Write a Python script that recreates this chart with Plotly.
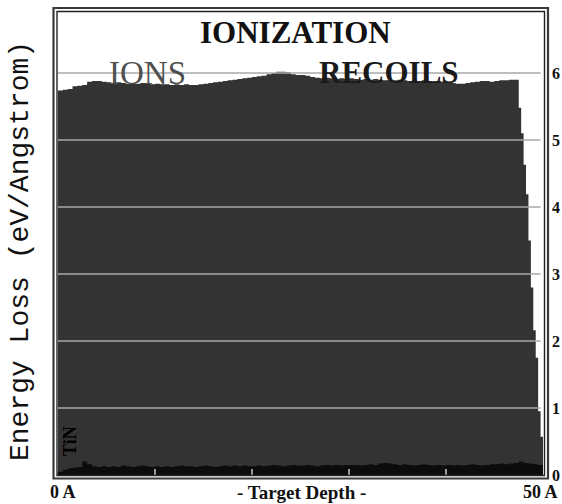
import plotly.graph_objects as go

# ---- data ----
BODY_BIN = 0.5   # Angstrom, bins 0 .. 47.5
TAIL_BIN = 0.25  # Angstrom, bins 47.5 .. 50
ion_body = [
    5.74, 5.75, 5.76, 5.80, 5.81, 5.82, 5.87, 5.88, 5.88, 5.87,
    5.86, 5.85, 5.86, 5.85, 5.84, 5.85, 5.84, 5.85, 5.84, 5.83,
    5.84, 5.83, 5.83, 5.82, 5.83, 5.82, 5.83, 5.82, 5.82, 5.83,
    5.84, 5.85, 5.86, 5.87, 5.88, 5.89, 5.90, 5.91, 5.92, 5.93,
    5.94, 5.95, 5.96, 5.98, 6.00, 6.02, 6.02, 6.01, 5.98, 5.97,
    5.97, 5.96, 5.94, 5.93, 5.92, 5.93, 5.92, 5.91, 5.92, 5.91,
    5.92, 5.91, 5.90, 5.91, 5.90, 5.91, 5.90, 5.89, 5.90, 5.89,
    5.90, 5.89, 5.88, 5.89, 5.88, 5.89, 5.88, 5.87, 5.88, 5.87,
    5.86, 5.85, 5.84, 5.84, 5.85, 5.86, 5.87, 5.88, 5.88, 5.87,
    5.88, 5.89, 5.89, 5.90, 5.90,
]
ion_tail = [5.48, 5.10, 4.63, 4.19, 3.50, 2.80, 2.16, 1.75, 0.95, 0.57]
recoil_vals = [
    0.05, 0.08, 0.10, 0.11, 0.12, 0.20, 0.16, 0.13, 0.12, 0.13,
    0.12, 0.13, 0.12, 0.14, 0.13, 0.12, 0.13, 0.14, 0.13, 0.12,
    0.13, 0.12, 0.13, 0.12, 0.13, 0.14, 0.13, 0.13, 0.12, 0.13,
    0.14, 0.13, 0.12, 0.13, 0.14, 0.13, 0.14, 0.13, 0.14, 0.13,
    0.13, 0.14, 0.13, 0.14, 0.15, 0.14, 0.13, 0.14, 0.15, 0.14,
    0.14, 0.15, 0.14, 0.13, 0.14, 0.15, 0.14, 0.15, 0.14, 0.15,
    0.15, 0.15, 0.14, 0.15, 0.16, 0.15, 0.17, 0.18, 0.17, 0.16,
    0.15, 0.16, 0.15, 0.14, 0.15, 0.16, 0.15, 0.14, 0.15, 0.14,
    0.15, 0.14, 0.15, 0.14, 0.15, 0.16, 0.15, 0.14, 0.15, 0.16,
    0.16, 0.17, 0.16, 0.17, 0.18, 0.20, 0.18, 0.17, 0.16, 0.15,
]
y_ticks = [0, 1, 2, 3, 4, 5, 6]
DEPTH_MAX = 50

# bin edges
ion_x = [i * BODY_BIN for i in range(len(ion_body))]
start = len(ion_body) * BODY_BIN
ion_x += [start + i * TAIL_BIN for i in range(len(ion_tail))]
ion_y = ion_body + ion_tail
ion_x.append(DEPTH_MAX)
ion_y.append(ion_y[-1])

rec_x = [i * BODY_BIN for i in range(len(recoil_vals))] + [DEPTH_MAX]
rec_y = recoil_vals + [recoil_vals[-1]]

# ---- layout geometry (pixels) ----
W, H = 562, 504
L, R, T, B = 58, 19, 12, 29
PW, PH = W - L - R, H - T - B
def px(x):
    return (x - L) / PW
def py(y):
    return (H - B - y) / PH

fig = go.Figure()
fig.add_trace(go.Scatter(x=ion_x, y=ion_y, mode="lines", line=dict(shape="hv", width=0, color="#333333"),
                         fill="tozeroy", fillcolor="#333333", hoverinfo="skip", showlegend=False))
fig.add_trace(go.Scatter(x=rec_x, y=rec_y, mode="lines", line=dict(shape="hv", width=0, color="#0c0c0c"),
                         fill="tozeroy", fillcolor="#0c0c0c", hoverinfo="skip", showlegend=False))

shapes = []
for v in y_ticks[1:]:
    shapes.append(dict(type="line", xref="paper", yref="y", x0=0, x1=0.995, y0=v, y1=v,
                       line=dict(color="#a8a8a8", width=1.6), layer="above"))
# double frame
shapes.append(dict(type="rect", xref="paper", yref="paper", x0=px(53.5), x1=px(548), y0=py(478.5), y1=py(8),
                   line=dict(color="#3a3a3a", width=2.2), layer="above"))
shapes.append(dict(type="rect", xref="paper", yref="paper", x0=px(57), x1=px(544.5), y0=py(475.5), y1=py(11.5),
                   line=dict(color="#222222", width=1.4), layer="above"))

serif = "Liberation Serif"
ann = [
    dict(text="IONIZATION", x=px(295), y=py(32), font=dict(family=serif, size=31, color="#111111", weight="bold")),
    dict(text="IONS", x=px(147), y=py(73), font=dict(family=serif, size=33, color="#505050")),
    dict(text="RECOILS", x=px(389), y=py(72), font=dict(family=serif, size=31, color="#1a1a1a", weight="bold")),
    dict(text="TiN", x=px(70), y=py(441), textangle=-90,
         font=dict(family=serif, size=18, color="#000000", weight="bold")),
    dict(text="0 A", x=px(63), y=py(492), font=dict(family=serif, size=18, color="#111111", weight="bold")),
    dict(text="- Target Depth -", x=px(301), y=py(492), font=dict(family=serif, size=19, color="#111111", weight="bold")),
    dict(text="50 A", x=px(540), y=py(492), font=dict(family=serif, size=18, color="#111111", weight="bold")),
    dict(text="Energy Loss (eV/Angstrom)", x=px(20), y=py(251), textangle=-90,
         font=dict(family="Liberation Mono", size=28, color="#111111")),
]
for a in ann:
    a.update(xref="paper", yref="paper", showarrow=False, xanchor="center", yanchor="middle")

fig.update_layout(
    width=W, height=H,
    margin=dict(l=L, r=R, t=T, b=B, pad=0, autoexpand=False),
    paper_bgcolor="white", plot_bgcolor="white",
    shapes=shapes, annotations=ann,
    xaxis=dict(range=[0, DEPTH_MAX], showgrid=False, zeroline=False, showline=False,
               tickvals=[10, 20, 30, 40], ticks="inside", ticklen=6, tickwidth=1.5, tickcolor="#9a9a9a",
               showticklabels=False, layer="above traces", fixedrange=True, automargin=False),
    yaxis=dict(range=[0, 6.91], side="right", showgrid=False, zeroline=False, showline=False,
               tickvals=y_ticks, ticktext=[str(v) for v in y_ticks], ticks="",
               tickfont=dict(family=serif, size=16, color="#111111", weight="bold"),
               ticklabelstandoff=8, fixedrange=True, automargin=False),
)

fig.write_html("out.html", config={"displayModeBar": False},
               post_script="document.body.style.margin='0';document.body.style.overflow='hidden';")
